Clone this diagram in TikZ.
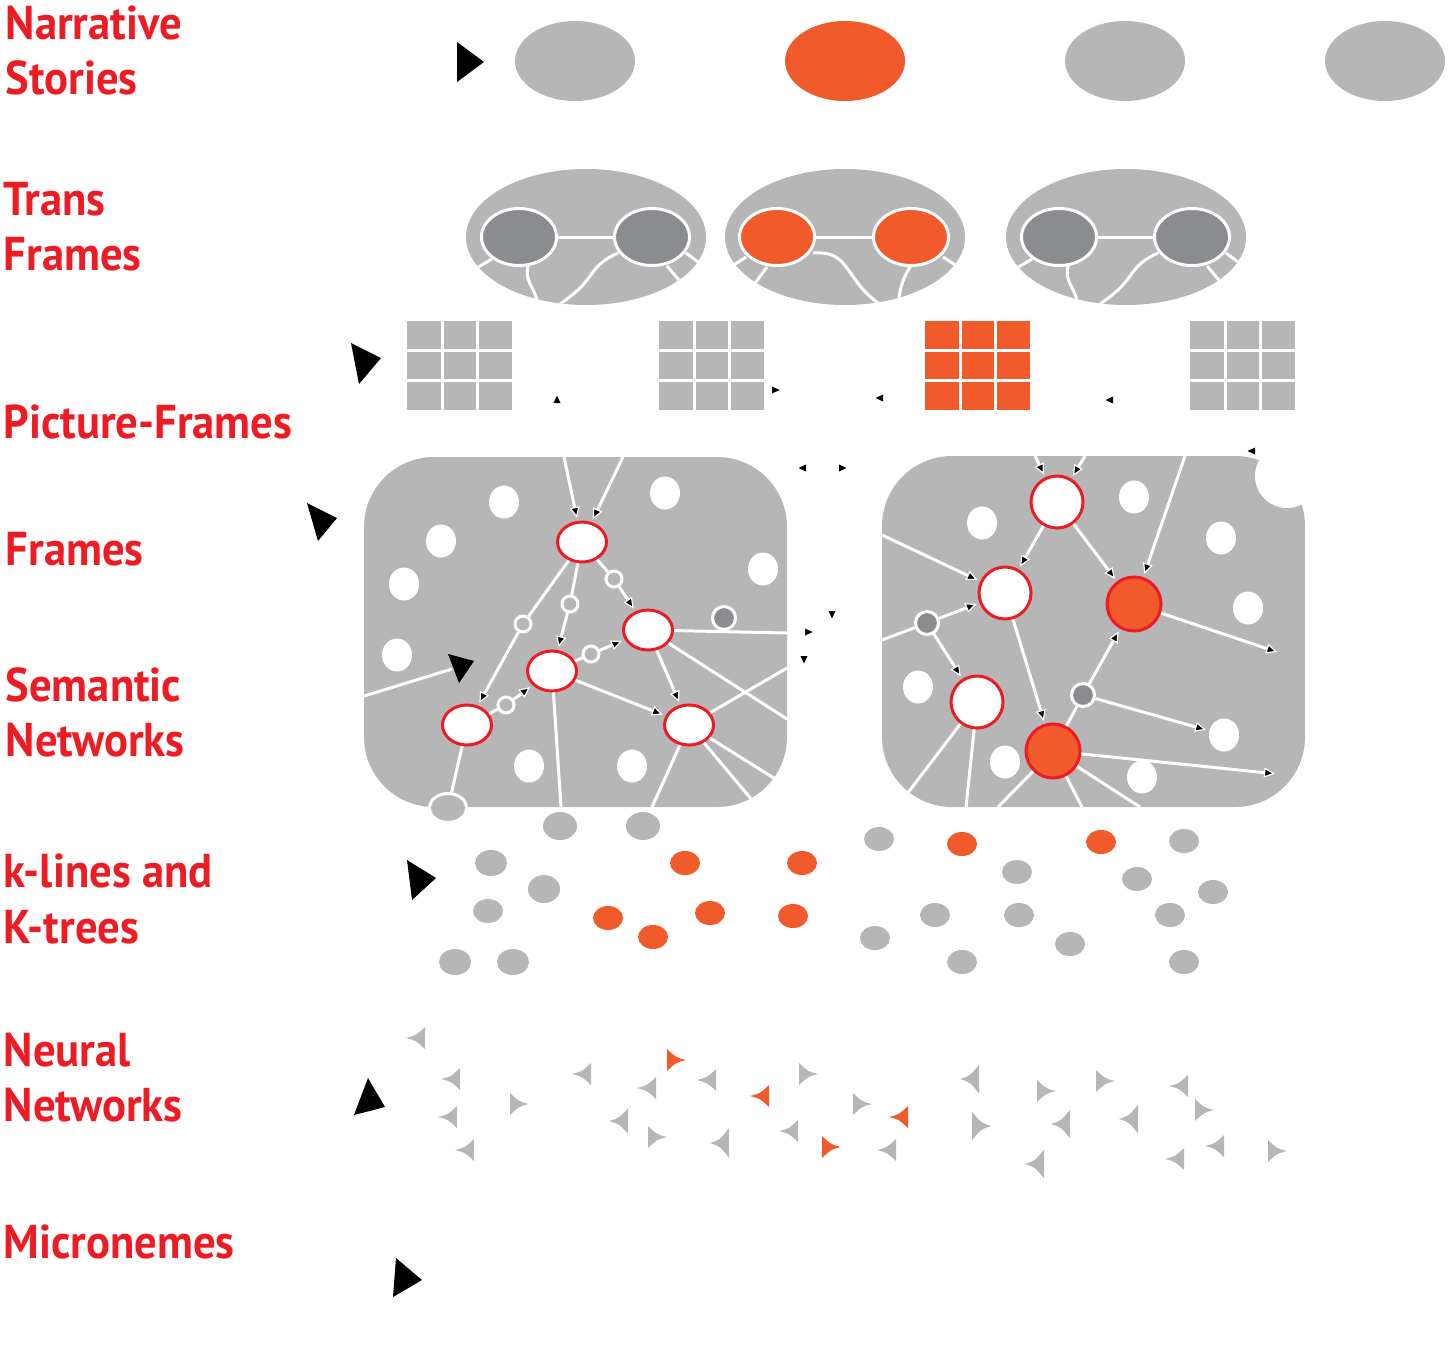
\documentclass[tikz,border=0pt]{standalone}
\usepackage{fontspec}
\setmainfont{PT Sans}[FakeStretch=0.94]
\usetikzlibrary{shapes.geometric, arrows.meta}

\definecolor{lgray}{RGB}{181,182,181}
\definecolor{dgray}{RGB}{138,140,143}
\definecolor{forange}{RGB}{241,90,43}
\definecolor{fred}{RGB}{237,28,36}

\tikzset{
  neuron/.pic={\path[pic actions] (10,0) .. controls (0,-2.5) .. (-9,-11) -- (-9,11) .. controls (0,2.5) .. (10,0) -- cycle;},
  stub/.pic={\fill[black] (4.5,0) -- (-3,3.5) -- (-3,-3.5) -- cycle;},
  pframe/.pic={\path[pic actions] (0,0) rectangle (105,89);
    \draw[white, line width=0.3mm] (35,0) -- (35,89) (70,0) -- (70,89) (0,29.7) -- (105,29.7) (0,59.3) -- (105,59.3);}
}

\begin{document}
\begin{tikzpicture}[x=0.1mm, y=-0.1mm, font=\bfseries\fontsize{13.5}{16}\selectfont]
    \tikzstyle{lbl} = [anchor=base west, inner sep=0, text=fred]
    \tikzstyle{story} = [ellipse, fill=lgray, minimum width=12mm, minimum height=8mm, inner sep=0]
    \tikzstyle{gate} = [ellipse, fill=dgray, draw=white, line width=0.3mm, minimum width=7.5mm, minimum height=5.7mm, inner sep=0]
    \tikzstyle{wire} = [draw=white, line width=0.3mm]
    \tikzstyle{feed} = [wire, -{Triangle[fill=black, line width=0.12mm, length=1.1mm, width=1mm]}, shorten >=0.3mm]
    \tikzstyle{hole} = [ellipse, fill=white, minimum width=3mm, minimum height=3.3mm, inner sep=0]
    \tikzstyle{slot} = [ellipse, fill=white, draw=fred, line width=0.3mm, minimum width=4.9mm, minimum height=4mm, inner sep=0]
    \tikzstyle{slotc} = [circle, fill=white, draw=fred, line width=0.3mm, minimum size=5.2mm, inner sep=0]
    \tikzstyle{fired} = [slotc, fill=forange, minimum size=5.4mm]
    \tikzstyle{relay} = [circle, fill=lgray, draw=white, line width=0.3mm, minimum size=1.6mm, inner sep=0]
    \tikzstyle{hub} = [circle, fill=dgray, draw=white, line width=0.3mm, minimum size=2.3mm, inner sep=0]
    \tikzstyle{kline} = [ellipse, fill=lgray, minimum width=3mm, minimum height=2.4mm, inner sep=0]
    \tikzstyle{kbig} = [kline, minimum width=3.2mm, minimum height=2.6mm]
    \tikzstyle{kfire} = [kline, fill=forange]
    \tikzstyle{nleft} = [fill=lgray, xscale=-1]
    \tikzstyle{nright} = [fill=lgray]

    \useasboundingbox (0,0) rectangle (1449,1350);

    % Level labels
    \node [lbl] (narrative) at (5,40) {Narrative};
    \node [lbl] (stories) at (5,95) {Stories};
    \node [lbl] (trans) at (3,215) {Trans};
    \node [lbl] (tframes) at (3,270) {Frames};
    \node [lbl] (pframes) at (3,438) {Picture-Frames};
    \node [lbl] (frames) at (5,565) {Frames};
    \node [lbl] (semantic) at (5,701) {Semantic};
    \node [lbl] (snetworks) at (5,756) {Networks};
    \node [lbl] (klines) at (3,887) {k-lines and};
    \node [lbl] (ktrees) at (3,943) {K-trees};
    \node [lbl] (neural) at (3,1066) {Neural};
    \node [lbl] (nnetworks) at (3,1121) {Networks};
    \node [lbl] (micro) at (3,1258) {Micronemes};

    % Pointers
    \fill (457,42) -- (484,62) -- (457,82) -- cycle;
    \fill (351,343) -- (381,358) -- (359,384) -- cycle;
    \fill (307,503) -- (337,518) -- (318,541) -- cycle;
    \fill (407,860) -- (436,878) -- (412,900) -- cycle;
    \fill (368,1078) -- (385,1107) -- (354,1115) -- cycle;
    \fill (396,1258) -- (422,1280) -- (393,1297) -- cycle;

    % Narrative stories
    \node [story] (st1) at (575,61) {};
    \node [story, fill=forange] (st2) at (845,61) {};
    \node [story] (st3) at (1125,61) {};
    \node [story] (st4) at (1385,61) {};

    % Trans-frames
    \fill [lgray] (586,237) ellipse [x radius=120, y radius=68];
    \begin{scope}
        \clip (586,237) ellipse [x radius=120, y radius=68];
        \draw [wire] (492,259) -- (470,272) (528,266) .. controls (524,285) and (538,288) .. (538,310)
            (618,253) .. controls (598,262) and (595,270) .. (587,280) .. controls (578,292) and (568,298) .. (552,310)
            (667,266) -- (684,286) (686,253) -- (706,268);
    \end{scope}
    \node [gate] (tf1a) at (519,237) {};
    \node [gate] (tf1b) at (652,237) {};
    \draw [wire] (tf1a) -- (tf1b);

    \fill [lgray] (845,237) ellipse [x radius=120, y radius=68];
    \begin{scope}
        \clip (845,237) ellipse [x radius=120, y radius=68];
        \draw [wire] (746,257) -- (726,270) (767,267) -- (750,290)
            (813,253) .. controls (835,252) and (840,258) .. (852,275) .. controls (862,290) and (870,298) .. (888,310)
            (910,267) .. controls (902,280) and (899,290) .. (898,310) (943,257) -- (966,272);
    \end{scope}
    \node [gate, fill=forange] (tf2a) at (777,237) {};
    \node [gate, fill=forange] (tf2b) at (911,237) {};
    \draw [wire] (tf2a) -- (tf2b);

    \fill [lgray] (1126,237) ellipse [x radius=120, y radius=68];
    \begin{scope}
        \clip (1126,237) ellipse [x radius=120, y radius=68];
        \draw [wire] (1032,259) -- (1010,272) (1068,266) .. controls (1064,285) and (1078,288) .. (1078,310)
            (1158,253) .. controls (1138,262) and (1135,270) .. (1127,280) .. controls (1118,292) and (1108,298) .. (1092,310)
            (1207,266) -- (1224,286) (1226,253) -- (1246,268);
    \end{scope}
    \node [gate] (tf3a) at (1059,237) {};
    \node [gate] (tf3b) at (1192,237) {};
    \draw [wire] (tf3a) -- (tf3b);

    % Picture-frames
    \pic [fill=lgray] at (407,321) {pframe};
    \pic [fill=lgray] at (659,321) {pframe};
    \pic [fill=forange] at (925,321) {pframe};
    \pic [fill=lgray] at (1190,321) {pframe};

    % loose arrow tips
    \pic [rotate=90] at (557,400) {stub};
    \pic at (775,390) {stub};
    \pic [rotate=180] at (880,398) {stub};
    \pic [rotate=180] at (1110,400) {stub};
    \pic [rotate=180] at (803,468) {stub};
    \pic at (842,468) {stub};
    \pic [rotate=-90] at (832,614) {stub};
    \pic at (808,632) {stub};
    \pic [rotate=-90] at (804,659) {stub};
    \pic [rotate=180] at (1252,451) {stub};

    % Frames
    \fill [lgray, rounded corners=7mm] (364,457) rectangle (787,807);
    \fill [lgray, rounded corners=7mm] (882,456) rectangle (1305,807);
    \fill [white] (1287,476) circle [radius=32];

    % Semantic network, left frame
    \node [hole] (ua) at (504,502) {};
    \node [hole] (ub) at (441,541) {};
    \node [hole] (uc) at (404,584) {};
    \node [hole] (ud) at (397,655) {};
    \node [hole] (ue) at (665,493) {};
    \node [hole] (uf) at (763,569) {};
    \node [hole] (ug) at (529,766) {};
    \node [hole] (uh) at (632,766) {};

    \node [slot] (fa) at (582,542) {};
    \node [slot] (fb) at (648,630) {};
    \node [slot] (fc) at (552,671) {};
    \node [slot] (fd) at (467,725) {};
    \node [slot] (fe) at (689,725) {};
    \node [relay] (ra) at (614,579) {};
    \node [relay] (rb) at (570,604) {};
    \node [relay] (rc) at (523,624) {};
    \node [relay] (rd) at (591,654) {};
    \node [relay] (re) at (506,705) {};

    \coordinate (ta) at (564,457);
    \coordinate (tb) at (623,457);
    \coordinate (lin) at (364,696);
    \coordinate (lend) at (452,669);
    \coordinate (ea) at (787,633);
    \coordinate (eb) at (787,719);
    \coordinate (ec) at (787,668);
    \coordinate (ba) at (652,807);
    \coordinate (bb) at (752,800);
    \coordinate (bc) at (777,780);
    \coordinate (bd) at (561,807);

    \draw [feed] (ta) -- (fa);
    \draw [feed] (tb) -- (fa);
    \draw [wire] (fa) -- (ra); \draw [feed] (ra) -- (fb);
    \draw [wire] (fa) -- (rb); \draw [feed] (rb) -- (fc);
    \draw [wire] (fa) -- (rc); \draw [feed] (rc) -- (fd);
    \draw [wire] (fd) -- (re); \draw [feed] (re) -- (fc);
    \draw [wire] (fc) -- (rd); \draw [feed] (rd) -- (fb);
    \draw [feed] (fc) -- (fe);
    \draw [feed] (fb) -- (fe);
    \draw [wire] (lin) -- (lend);
    \draw [wire] (fb) -- (ea);
    \draw [wire] (fb) -- (eb);
    \draw [wire] (fe) -- (ec);
    \draw [wire] (fe) -- (ba);
    \draw [wire] (fe) -- (bb);
    \draw [wire] (fe) -- (bc);
    \draw [wire] (fc) -- (bd);
    \node [hub] (hx) at (724,618) {};
    \fill (448,654) -- (474,661) -- (459,683) -- cycle;

    % Semantic network, right frame
    \node [hole] (va) at (982,523) {};
    \node [hole] (vb) at (1134,497) {};
    \node [hole] (vc) at (1221,538) {};
    \node [hole] (vd) at (1248,608) {};
    \node [hole] (ve) at (918,687) {};
    \node [hole] (vf) at (1005,762) {};
    \node [hole] (vg) at (1224,735) {};
    \node [hole] (vh) at (1142,777) {};

    \node [slotc] (sa) at (1057,502) {};
    \node [slotc] (sb) at (1005,593) {};
    \node [slotc] (sc) at (977,702) {};
    \node [fired] (sd) at (1134,604) {};
    \node [fired] (se) at (1053,751) {};
    \node [hub] (hy) at (927,623) {};
    \node [hub] (hz) at (1083,695) {};

    \coordinate (tc) at (1035,456);
    \coordinate (td) at (1085,456);
    \coordinate (te) at (1185,456);
    \coordinate (lf) at (882,535);
    \coordinate (lg) at (882,640);
    \coordinate (ed) at (1280,653);
    \coordinate (ee) at (1278,774);
    \coordinate (be) at (907,794);
    \coordinate (bf) at (966,807);
    \coordinate (bg) at (998,807);
    \coordinate (bh) at (1082,807);
    \coordinate (bi) at (1140,807);

    \draw [feed] (tc) -- (sa);
    \draw [feed] (td) -- (sa);
    \draw [feed] (sa) -- (sb);
    \draw [feed] (sa) -- (sd);
    \draw [feed] (te) -- (sd);
    \draw [feed] (lf) -- (sb);
    \draw [wire] (lg) -- (hy); \draw [feed] (hy) -- (sb); \draw [feed] (hy) -- (sc);
    \draw [feed] (sb) -- (se);
    \draw [wire] (se) -- (hz); \draw [feed] (hz) -- (sd); \draw [feed] (hz) -- (vg);
    \draw [feed] (sd) -- (ed);
    \draw [feed] (se) -- (ee);
    \draw [wire] (sc) -- (be);
    \draw [wire] (sc) -- (bf);
    \draw [wire] (se) -- (bg);
    \draw [wire] (se) -- (bh);
    \draw [wire] (se) -- (bi);

    % k-lines and K-trees
    \node [kline, draw=white, line width=0.3mm, minimum width=3.7mm, minimum height=2.9mm] (kg1) at (448,808) {};
    \draw [wire] (fd) -- (kg1);
    \node [kline, minimum width=3.4mm, minimum height=2.8mm] (kg2) at (560,826) {};
    \node [kline, minimum width=3.4mm, minimum height=2.8mm] (kg3) at (643,826) {};
    \node [kbig] (kg4) at (491,863) {};
    \node [kbig, minimum height=2.8mm] (kg5) at (544,889) {};
    \node [kline] (kg6) at (488,911) {};
    \node [kbig] (kg7) at (455,962) {};
    \node [kbig] (kg8) at (513,962) {};
    \node [kline] (kg9) at (879,839) {};
    \node [kline] (kg10) at (1017,872) {};
    \node [kline] (kg11) at (1184,841) {};
    \node [kline] (kg12) at (1137,879) {};
    \node [kline] (kg13) at (1213,892) {};
    \node [kline] (kg14) at (935,915) {};
    \node [kline] (kg15) at (1019,915) {};
    \node [kline] (kg16) at (1170,915) {};
    \node [kline] (kg17) at (875,938) {};
    \node [kline] (kg18) at (1070,944) {};
    \node [kline] (kg19) at (962,962) {};
    \node [kline] (kg20) at (1184,962) {};
    \node [kfire] (ko1) at (685,863) {};
    \node [kfire] (ko2) at (802,863) {};
    \node [kfire] (ko3) at (608,918) {};
    \node [kfire] (ko4) at (653,937) {};
    \node [kfire] (ko5) at (710,913) {};
    \node [kfire] (ko6) at (793,916) {};
    \node [kfire] (ko7) at (962,844) {};
    \node [kfire] (ko8) at (1101,842) {};

    % Neural networks
    \pic [nleft] at (416,1038) {neuron};
    \pic [nleft] at (451,1079) {neuron};
    \pic [nleft] at (448,1117) {neuron};
    \pic [nleft] at (465,1150) {neuron};
    \pic [nright] at (519,1104) {neuron};
    \pic [nleft] at (582,1074) {neuron};
    \pic [nright, fill=forange] at (676,1060) {neuron};
    \pic [nleft] at (647,1088) {neuron};
    \pic [nleft, yscale=1.15] at (619,1121) {neuron};
    \pic [nleft] at (707,1080) {neuron};
    \pic [nright] at (657,1137) {neuron};
    \pic [nleft, yscale=1.35] at (720,1143) {neuron};
    \pic [nright] at (808,1074) {neuron};
    \pic [nleft, fill=forange] at (760,1096) {neuron};
    \pic [nright] at (862,1104) {neuron};
    \pic [nleft, fill=forange] at (899,1117) {neuron};
    \pic [nleft] at (789,1131) {neuron};
    \pic [nright, fill=forange] at (831,1147) {neuron};
    \pic [nleft] at (887,1150) {neuron};
    \pic [nleft, yscale=1.3] at (970,1079) {neuron};
    \pic [nright] at (1046,1091) {neuron};
    \pic [nright] at (1105,1081) {neuron};
    \pic [nleft] at (1179,1086) {neuron};
    \pic [nright, yscale=1.3] at (981,1126) {neuron};
    \pic [nleft, yscale=1.3] at (1061,1124) {neuron};
    \pic [nleft, yscale=1.3] at (1129,1119) {neuron};
    \pic [nright] at (1204,1110) {neuron};
    \pic [nleft, yscale=1.3] at (1035,1164) {neuron};
    \pic [nleft] at (1175,1159) {neuron};
    \pic [nleft] at (1215,1146) {neuron};
    \pic [nright] at (1277,1151) {neuron};
\end{tikzpicture}
\end{document}
